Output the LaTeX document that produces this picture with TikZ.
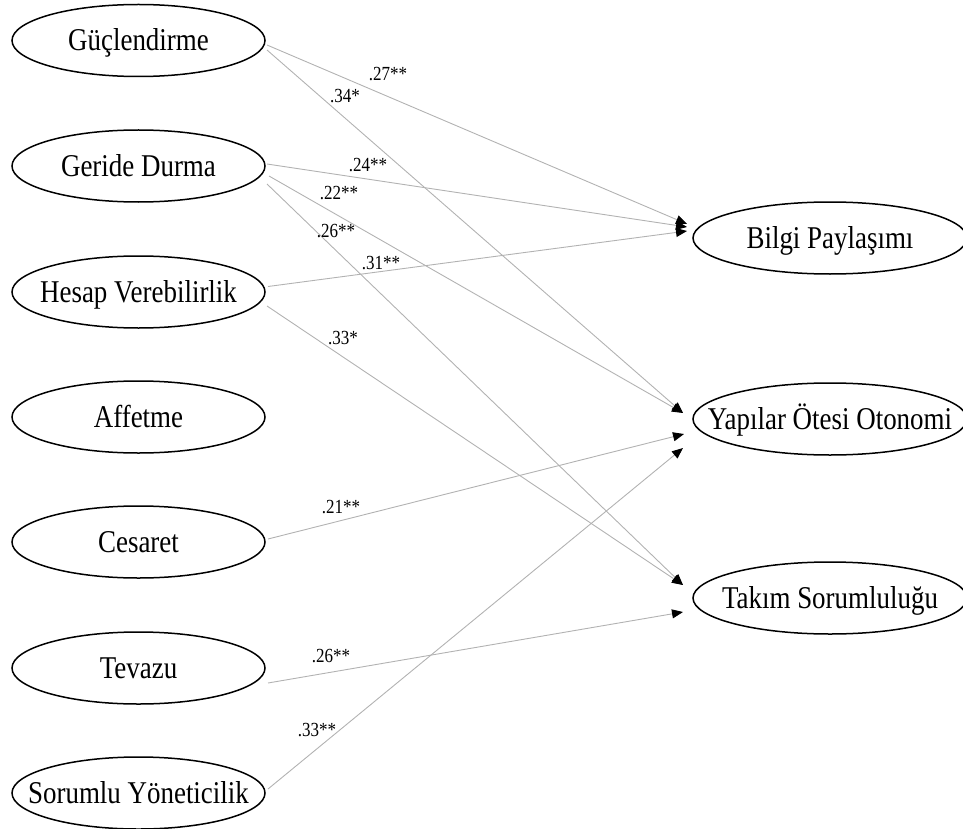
\documentclass[tikz,border=0pt]{standalone}
\usepackage{fontspec}
\setmainfont[FakeStretch=0.85]{Liberation Serif}
\usetikzlibrary{shapes.geometric,arrows.meta,calc}

\tikzset{
  lat/.style={ellipse, draw=black, line width=1.5pt, inner sep=0pt,
    minimum width=253pt, minimum height=72pt},
  res/.style={ellipse, draw=black, line width=1.5pt, inner sep=0pt,
    minimum width=274pt, minimum height=72pt},
  vtext/.style={font=\fontsize{31.7}{34}\selectfont, inner sep=0pt,
    text height=21pt, text depth=0pt},
  coef/.style={font=\fontsize{20}{22}\selectfont, inner sep=0pt,
    text height=13.2pt, text depth=0pt},
  link/.style={draw=black!30, line width=0.9pt,
    -{Triangle[length=11pt,width=9pt,color=black]}},
}

\begin{document}
\begin{tikzpicture}[x=1pt,y=-1pt]
\useasboundingbox (0,0) rectangle (963,829);
\clip (0,0) rectangle (963,829);

% predictors
\node[lat, label={[vtext]center:Güçlendirme}]         (gu) at (138.5,40.5) {};
\node[lat, label={[vtext]center:Geride Durma}]        (gd) at (138.5,166) {};
\node[lat, label={[vtext]center:Hesap Verebilirlik}]  (hv) at (138.5,292) {};
\node[lat, label={[vtext]center:Affetme}]             (af) at (138.5,417) {};
\node[lat, label={[vtext]center:Cesaret}]             (ce) at (138.5,542) {};
\node[lat, label={[vtext]center:Tevazu}]              (te) at (138.5,668) {};
\node[lat, label={[vtext]center:Sorumlu Yöneticilik}] (so) at (138.5,793) {};

% outcomes
\node[res, label={[vtext]center:Bilgi Paylaşımı}]        (bp) at (830,238) {};
\node[res, label={[vtext]center:Yapılar Ötesi Otonomi}]  (yo) at (830,419) {};
\node[res, label={[vtext]center:Takım Sorumluluğu}]      (ts) at (830,598) {};

% edge start points
\coordinate (gu1) at ($(gu.center)+(128.5,4.5)$);
\coordinate (gu2) at ($(gu.center)+(128.5,9.5)$);
\coordinate (gd1) at ($(gd.center)+(128.5,-2)$);
\coordinate (gd2) at ($(gd.center)+(130.5,10)$);
\coordinate (gd3) at ($(gd.center)+(128.5,18)$);
\coordinate (hv1) at ($(hv.center)+(129.5,-5.5)$);
\coordinate (hv2) at ($(hv.center)+(128.5,14)$);
\coordinate (ce1) at ($(ce.center)+(129.5,-3)$);
\coordinate (te1) at ($(te.center)+(129.5,15)$);
\coordinate (so1) at ($(so.center)+(129.5,-4)$);

% edge end points
\coordinate (bpa) at ($(bp.center)+(-143,-14)$);
\coordinate (bpb) at ($(bp.center)+(-143,-11)$);
\coordinate (bpc) at ($(bp.center)+(-143,-7)$);
\coordinate (yoa) at ($(yo.center)+(-147,-6)$);
\coordinate (yob) at ($(yo.center)+(-146,15)$);
\coordinate (yoc) at ($(yo.center)+(-147,29)$);
\coordinate (tsa) at ($(ts.center)+(-147,-13)$);
\coordinate (tsb) at ($(ts.center)+(-147,14)$);

% paths
\draw[link] (gu1) -- (bpa);
\draw[link] (gu2) -- (yoa);
\draw[link] (gd1) -- (bpb);
\draw[link] (gd2) -- (yoa);
\draw[link] (gd3) -- (tsa);
\draw[link] (hv1) -- (bpc);
\draw[link] (hv2) -- (tsa);
\draw[link] (ce1) -- (yob);
\draw[link] (te1) -- (tsb);
\draw[link] (so1) -- (yoc);

% coefficients
\node[coef] (c1)  at (388,74)  {.27**};
\node[coef] (c2)  at (345,96)  {.34*};
\node[coef] (c3)  at (368,165) {.24**};
\node[coef] (c4)  at (339,193) {.22**};
\node[coef] (c5)  at (336,231) {.26**};
\node[coef] (c6)  at (381,263) {.31**};
\node[coef] (c7)  at (343,338) {.33*};
\node[coef] (c8)  at (341,507) {.21**};
\node[coef] (c9)  at (331,656) {.26**};
\node[coef] (c10) at (317,730) {.33**};
\end{tikzpicture}
\end{document}
